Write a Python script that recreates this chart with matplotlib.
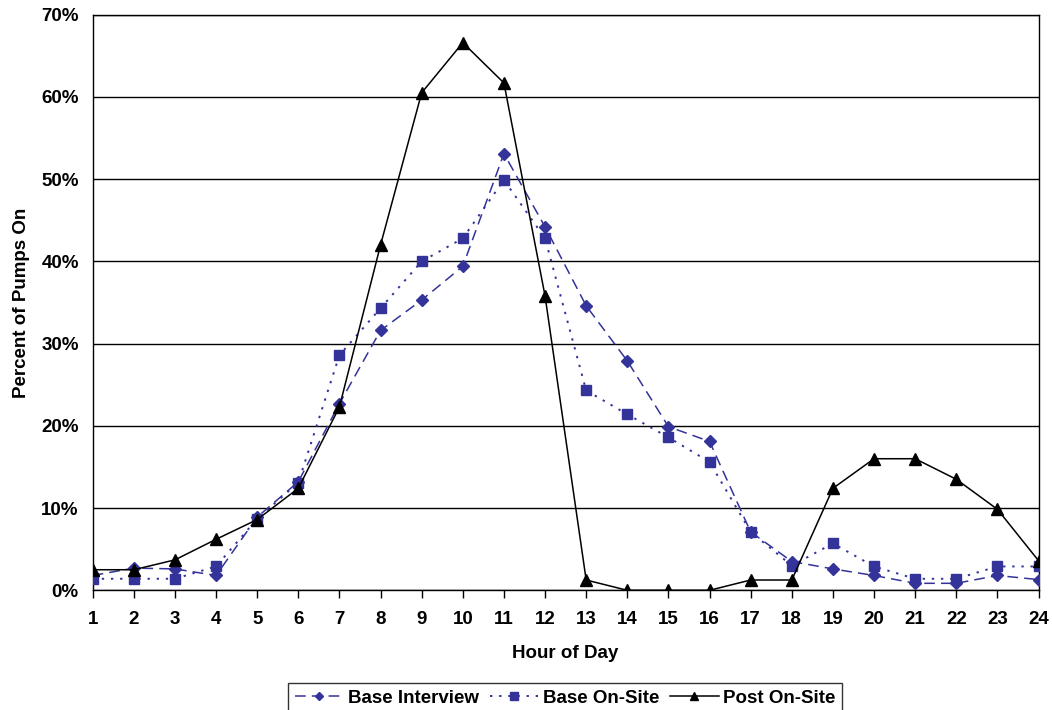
import matplotlib
matplotlib.use("Agg")
import matplotlib.pyplot as plt
from matplotlib.ticker import FuncFormatter, MultipleLocator

plt.rcParams['font.family'] = ['Liberation Sans', 'DejaVu Sans']
plt.rcParams['font.weight'] = 'bold'

hours = list(range(1, 25))
base_interview = [1.8, 2.7, 2.6, 1.8, 8.9, 13.2, 22.7, 31.6, 35.3, 39.4, 53.1, 44.2,
                  34.6, 27.9, 19.9, 18.1, 7.1, 3.5, 2.6, 1.8, 0.85, 0.85, 1.8, 1.3]
base_onsite = [1.4, 1.4, 1.4, 2.9, 8.7, 13.1, 28.6, 34.3, 40.0, 42.8, 49.9, 42.8,
               24.3, 21.4, 18.6, 15.6, 7.1, 3.0, 5.7, 2.9, 1.4, 1.4, 2.9, 2.9]
post_onsite = [2.5, 2.5, 3.7, 6.2, 8.6, 12.4, 22.3, 42.0, 60.5, 66.6, 61.7, 35.8,
               1.25, 0.0, 0.0, 0.0, 1.25, 1.25, 12.4, 16.0, 16.0, 13.5, 9.85, 3.6]

navy = '#333399'
fs = 13.5

fig = plt.figure(figsize=(10.52, 7.10), dpi=100)
ax = fig.add_axes([0.0881, 0.1686, 0.8991, 0.8107])

ax.plot(hours, base_interview, color=navy, lw=1.1, dashes=(7, 4),
        marker='D', ms=6, mfc=navy, mec=navy, label='Base Interview', zorder=3)
ax.plot(hours, base_onsite, color=navy, lw=1.4, dashes=(1.2, 3.5),
        marker='s', ms=7, mfc=navy, mec=navy, label='Base On-Site', zorder=3)
ax.plot(hours, post_onsite, color='black', lw=1.1, linestyle='-',
        marker='^', ms=8, mfc='black', mec='black', label='Post On-Site', zorder=4)

ax.set_xlim(1, 24)
ax.set_ylim(0, 70)
ax.set_xticks(hours)
ax.set_xticklabels([str(h) for h in hours])
ax.yaxis.set_major_locator(MultipleLocator(10))
ax.yaxis.set_major_formatter(FuncFormatter(lambda v, p: f"{int(round(v))}%"))
ax.grid(axis='y', color='black', lw=1.0)
ax.set_axisbelow(True)

ax.tick_params(axis='x', direction='out', length=6, width=1, color='black',
               labelsize=fs, pad=9)
ax.tick_params(axis='y', length=0, labelsize=fs, pad=10)
for lbl in ax.get_xticklabels() + ax.get_yticklabels():
    lbl.set_fontweight('bold')

for s in ax.spines.values():
    s.set_color('black')
    s.set_linewidth(1.0)

ax.set_xlabel('Hour of Day', fontsize=fs, fontweight='bold', labelpad=12)
ax.set_ylabel('Percent of Pumps On', fontsize=fs, fontweight='bold', labelpad=8)

leg = fig.legend(loc='center', bbox_to_anchor=(0.5374, 0.0169), ncol=3,
                 frameon=True, fancybox=False, edgecolor='black',
                 prop={'size': fs, 'weight': 'bold'}, handlelength=2.6,
                 handletextpad=0.25, columnspacing=0.55, borderpad=0.35,
                 borderaxespad=0, markerscale=0.75)
leg.get_frame().set_linewidth(1.0)

fig.savefig('out.png', dpi=100)
